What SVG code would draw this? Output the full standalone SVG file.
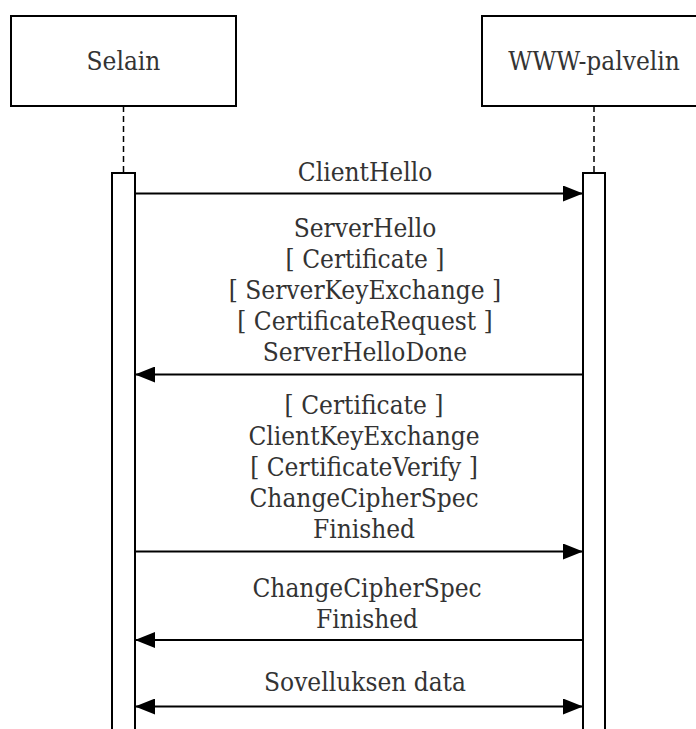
<svg xmlns="http://www.w3.org/2000/svg" width="696" height="729" viewBox="0 0 696 729">
  <defs>
    <style>
      text { font-family: "DejaVu Serif Condensed", "DejaVu Serif", serif; font-stretch: condensed; font-size: 26px; fill: #333; text-anchor: middle; }
      .box { fill: #fff; stroke: #000; stroke-width: 2; }
      .life { stroke: #000; stroke-width: 1.5; stroke-dasharray: 6 4; fill: none; }
      .act { fill: #fff; stroke: #000; stroke-width: 2; }
      .msg { stroke: #000; stroke-width: 2; fill: none; }
    </style>
    <marker id="head" viewBox="0 0 20 16" refX="19" refY="8" markerWidth="20" markerHeight="16" markerUnits="userSpaceOnUse" orient="auto-start-reverse">
      <path d="M0,0 L20,8 L0,16 Z" fill="#000"/>
    </marker>
  </defs>

  <!-- participant: Selain -->
  <g id="selain">
    <rect class="box" x="11" y="16" width="225" height="90"/>
    <text x="123.5" y="70">Selain</text>
    <line class="life" x1="123.5" y1="106" x2="123.5" y2="172"/>
    <rect class="act" x="112" y="173" width="23" height="580"/>
  </g>

  <!-- participant: WWW-palvelin -->
  <g id="palvelin">
    <rect class="box" x="482" y="16" width="225" height="90"/>
    <text x="594" y="70">WWW-palvelin</text>
    <line class="life" x1="594" y1="106" x2="594" y2="172"/>
    <rect class="act" x="583" y="173" width="22" height="580"/>
  </g>

  <!-- messages -->
  <g id="connectors">
    <line class="msg" x1="135" y1="193.5" x2="582" y2="193.5" marker-end="url(#head)"/>
    <line class="msg" x1="583" y1="374.5" x2="136" y2="374.5" marker-end="url(#head)"/>
    <line class="msg" x1="135" y1="551.5" x2="582" y2="551.5" marker-end="url(#head)"/>
    <line class="msg" x1="583" y1="640" x2="136" y2="640" marker-end="url(#head)"/>
    <line class="msg" x1="136" y1="706.5" x2="582" y2="706.5" marker-start="url(#head)" marker-end="url(#head)"/>
  </g>

  <!-- message labels -->
  <g id="labels">
    <text x="365" y="181">ClientHello</text>

    <text x="365" y="237">ServerHello</text>
    <text x="365" y="268">[ Certificate ]</text>
    <text x="365" y="299">[ ServerKeyExchange ]</text>
    <text x="365" y="330">[ CertificateRequest ]</text>
    <text x="365" y="361">ServerHelloDone</text>

    <text x="364" y="414">[ Certificate ]</text>
    <text x="364" y="445">ClientKeyExchange</text>
    <text x="364" y="476">[ CertificateVerify ]</text>
    <text x="364" y="507">ChangeCipherSpec</text>
    <text x="364" y="538">Finished</text>

    <text x="367" y="597">ChangeCipherSpec</text>
    <text x="367" y="628">Finished</text>

    <text x="365" y="691">Sovelluksen data</text>
  </g>
</svg>
